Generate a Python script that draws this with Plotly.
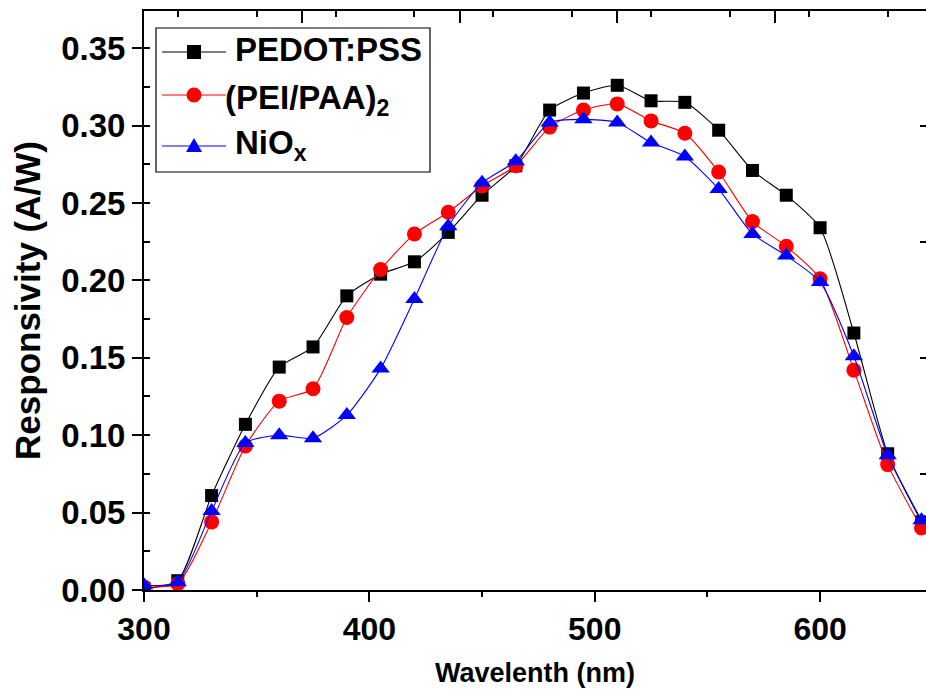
import plotly.graph_objects as go

# ---------------- data ----------------
wavelength = [300, 315, 330, 345, 360, 375, 390, 405, 420, 435, 450, 465,
              480, 495, 510, 525, 540, 555, 570, 585, 600, 615, 630, 645]
pedot_pss = [0.001, 0.006, 0.061, 0.107, 0.144, 0.157, 0.190, 0.204, 0.212, 0.231, 0.255, 0.274,
             0.310, 0.321, 0.326, 0.316, 0.315, 0.297, 0.271, 0.255, 0.234, 0.166, 0.088, 0.044]
pei_paa = [0.002, 0.004, 0.044, 0.093, 0.122, 0.130, 0.176, 0.207, 0.230, 0.244, 0.261, 0.274,
           0.299, 0.310, 0.314, 0.303, 0.295, 0.270, 0.238, 0.222, 0.201, 0.142, 0.081, 0.040]
niox = [0.003, 0.005, 0.051, 0.095, 0.100, 0.098, 0.113, 0.143, 0.188, 0.235, 0.263, 0.277,
        0.302, 0.304, 0.302, 0.289, 0.280, 0.259, 0.230, 0.216, 0.199, 0.151, 0.087, 0.045]

series_names = ["PEDOT:PSS", "(PEI/PAA)<sub>2</sub>", "NiO<sub>x</sub>"]
series_values = [pedot_pss, pei_paa, niox]
series_colors = ["#000000", "#FF0000", "#0000FF"]
series_symbols = ["square", "circle", "triangle-up"]
series_sizes = [13, 15, 16]

x_title = "Wavelenth (nm)"
y_title = "Responsivity (A/W)"

FONT = "Liberation Sans, Arial, sans-serif"

W, H = 926, 695
L, R, T, B = 144, 0, 11, 105
PW, PH = W - L - R, H - T - B


def px(xp):
    return (xp - L) / PW


def py(yp):
    return (H - B - yp) / PH


fig = go.Figure()
for name, vals, col, sym, sz in zip(series_names, series_values, series_colors,
                                    series_symbols, series_sizes):
    fig.add_trace(go.Scatter(
        x=wavelength, y=vals, name=name, mode="lines+markers",
        line=dict(color=col, width=1.1, shape="spline", smoothing=0.6),
        marker=dict(symbol=sym, size=sz, color=col, line=dict(width=0)),
        showlegend=False,
    ))

# empty trace so that the mirrored top / right frame axes get drawn
fig.add_trace(go.Scatter(x=[], y=[], xaxis="x2", yaxis="y2", showlegend=False,
                         hoverinfo="skip", mode="markers"))

axis_common = dict(showgrid=False, zeroline=False, showline=True, linecolor="black",
                   linewidth=2, tickcolor="black", tickwidth=2)

fig.update_layout(
    width=W, height=H,
    margin=dict(l=L, r=R, t=T, b=B, pad=0),
    paper_bgcolor="white", plot_bgcolor="white",
    font=dict(family=FONT, color="black", weight="bold"),
    xaxis=dict(range=[300, 647], dtick=100, tick0=300, ticks="outside", ticklen=10,
               minor=dict(dtick=50, ticks="outside", ticklen=5, tickwidth=2, tickcolor="black"),
               tickfont=dict(family=FONT, size=32, weight="bold"),
               title=dict(text=x_title, font=dict(family=FONT, size=27, weight="bold"), standoff=17),
               **axis_common),
    yaxis=dict(range=[0, 0.374], dtick=0.05, tick0=0, ticks="outside", ticklen=10,
               tickformat=".2f",
               minor=dict(dtick=0.025, ticks="inside", ticklen=6, tickwidth=2, tickcolor="black"),
               tickfont=dict(family=FONT, size=33, weight="bold"),
               title=dict(text=y_title, font=dict(family=FONT, size=35, weight="bold"), standoff=10),
               **axis_common),
    xaxis2=dict(overlaying="x", anchor="y", side="top", range=[300, 647], tick0=300, dtick=70,
                ticks="inside", ticklen=12, showticklabels=False,
                minor=dict(dtick=35, ticks="inside", ticklen=6, tickwidth=2, tickcolor="black"),
                **axis_common),
    yaxis2=dict(overlaying="y", anchor="x", side="right", range=[0, 0.374], tick0=0, dtick=0.075,
                ticks="inside", ticklen=6, showticklabels=False, **axis_common),
)

# ---------------- legend (drawn as in the original: long sample lines) ----------------
shapes = [dict(type="rect", xref="paper", yref="paper", x0=px(156), x1=px(430),
               y0=py(172), y1=py(28), line=dict(color="black", width=1.2),
               fillcolor="white", layer="above")]
annotations = []
row_y = [52, 95, 146]
text_x = [233, 223, 233]
text_y = [49, 100, 145]
marker_paths = [
    "M-7,-7 L7,-7 L7,7 L-7,7 Z",
    None,
    "M-8,-6 L8,-6 L0,8 Z",
]
for i, (name, col) in enumerate(zip(series_names, series_colors)):
    yy = py(row_y[i])
    shapes.append(dict(type="line", xref="paper", yref="paper", x0=px(162), x1=px(226),
                       y0=yy, y1=yy, line=dict(color=col, width=1.1), layer="above"))
    if marker_paths[i] is None:
        shapes.append(dict(type="circle", xref="paper", yref="paper", xsizemode="pixel",
                           ysizemode="pixel", xanchor=px(194), yanchor=yy,
                           x0=-7.5, x1=7.5, y0=-7.5, y1=7.5, fillcolor=col,
                           line=dict(width=0), layer="above"))
    else:
        shapes.append(dict(type="path", xref="paper", yref="paper", xsizemode="pixel",
                           ysizemode="pixel", xanchor=px(194), yanchor=yy,
                           path=marker_paths[i], fillcolor=col,
                           line=dict(width=0), layer="above"))
    annotations.append(dict(text=name, xref="paper", yref="paper", x=px(text_x[i]),
                            y=py(text_y[i]), xanchor="left", yanchor="middle",
                            showarrow=False,
                            font=dict(family=FONT, size=33, weight="bold", color="black")))

fig.update_layout(shapes=shapes, annotations=annotations)

fig.write_html("out.html", config={"displayModeBar": False},
               post_script="document.body.style.margin='0';document.body.style.padding='0';")
